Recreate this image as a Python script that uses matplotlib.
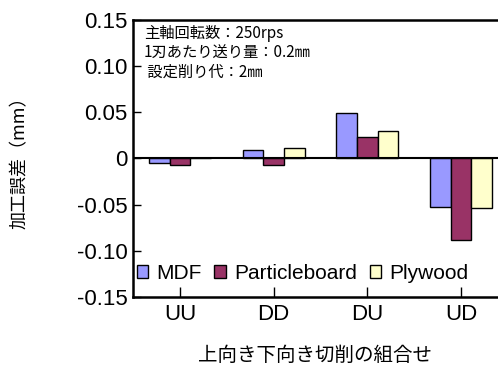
import matplotlib
matplotlib.use('Agg')
import matplotlib.pyplot as plt
import numpy as np

# data
groups = ['UU', 'DD', 'DU', 'UD']
mdf = [-0.005, 0.009, 0.049, -0.052]
particle = [-0.007, -0.007, 0.0235, -0.088]
plywood = [0.001, 0.011, 0.030, -0.054]
series = ['MDF', 'Particleboard', 'Plywood']
colors = ['#9999FF', '#993366', '#FFFFCC']
yticks = [0.15, 0.10, 0.05, 0, -0.05, -0.10, -0.15]
ylabels = ['0.15', '0.10', '0.05', '0', '-0.05', '-0.10', '-0.15']
notes = ['主軸回転数：250rps', '1刃あたり送り量：0.2㎜', ' 設定削り代：2㎜']

jp = ['Noto Sans CJK JP', 'DejaVu Sans']
lat = ['Liberation Sans', 'DejaVu Sans']

W, H = 498, 367
fig = plt.figure(figsize=(W/100, H/100), dpi=100)
ax = fig.add_axes([133/W, 1-297/H, (508-133)/W, (297-20)/H])

x = np.arange(len(groups))
bw = 0.22
for i, (vals, name, c) in enumerate(zip([mdf, particle, plywood], series, colors)):
    ax.bar(x + (i-1)*bw, vals, bw, color=c, edgecolor='black', linewidth=1,
           label=name, zorder=3)

ax.axhline(0, color='black', linewidth=1.5, zorder=4)
ax.set_xlim(-0.5, 3.5)
ax.set_ylim(-0.15, 0.15)
ax.set_xticks(x)
ax.set_xticklabels(groups, family=lat, fontsize=16)
ax.set_yticks(yticks)
ax.set_yticklabels(ylabels, family=lat, fontsize=16)
ax.tick_params(axis='y', direction='in', length=6, width=1, pad=4)
ax.tick_params(axis='x', direction='in', length=7, width=1, pad=5)
for s in ['top', 'bottom', 'left']:
    ax.spines[s].set_linewidth(1.8)

leg = ax.legend(loc='center left', bbox_to_anchor=(0.01, 0.085), ncol=3,
                frameon=False, prop={'family': lat, 'size': 15},
                handlelength=0.55, handleheight=0.55, handletextpad=0.4,
                columnspacing=0.6, borderaxespad=0, borderpad=0)

for k, t in enumerate(notes):
    fig.text(144/W, 1-(34+19*k)/H, t, family=jp, fontsize=11, va='center', ha='left')

fig.text(315/W, 1-355/H, '上向き下向き切削の組合せ', family=jp, fontsize=14,
         ha='center', va='center')
fig.text(20/W, 1-158/H, '加工誤差（mm）', family=jp, fontsize=13,
         ha='center', va='center', rotation=90)

fig.savefig('out.png', dpi=100)
